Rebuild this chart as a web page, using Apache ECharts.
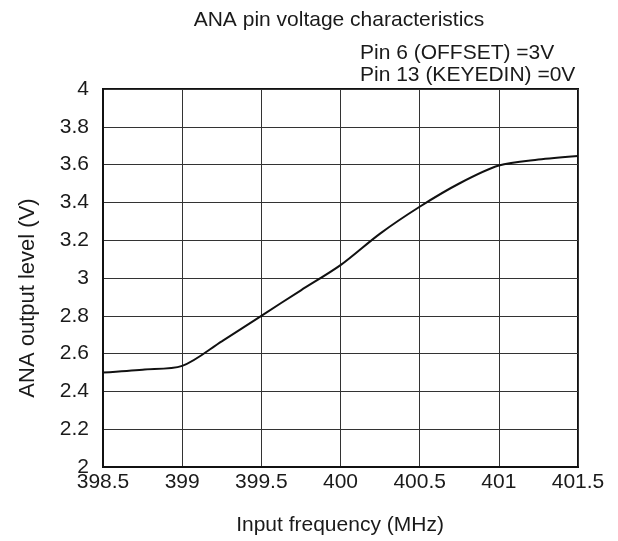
<!DOCTYPE html>
<html>
<head>
<meta charset="utf-8">
<script src="https://cdn.jsdelivr.net/npm/echarts@6/dist/echarts.min.js"></script>
<style>html,body{margin:0;padding:0;background:#fff}#c{width:618px;height:541px}</style>
</head>
<body>
<div id="c"></div>
<script>
const freqMHz = [398.5, 398.75, 399, 399.25, 399.5, 399.75, 400, 400.25, 400.5, 400.75, 401, 401.25, 401.5];
const anaLevelV = [2.50, 2.515, 2.535, 2.665, 2.80, 2.935, 3.068, 3.235, 3.377, 3.50, 3.595, 3.627, 3.646];
const titleText = 'ANA pin voltage characteristics';
const condLines = ['Pin 6 (OFFSET) =3V', 'Pin 13 (KEYEDIN) =0V'];
const xName = 'Input frequency (MHz)';
const yName = 'ANA output level (V)';

const font = '"Liberation Sans", Arial, sans-serif';
const fs = 21;
const txt = (text, x, y, align, rot, size) => ({
  type: 'text', x: x, y: y, rotation: rot || 0,
  style: {text: text, font: (size || fs) + 'px ' + font, fill: '#1a1a1a', align: align, verticalAlign: 'middle', textAlign: align, textVerticalAlign: 'middle'}
});
const chart = echarts.init(document.getElementById('c'));
chart.setOption({
  animation: false,
  backgroundColor: '#fff',
  graphic: [
    txt(titleText, 339, 20, 'center'),
    txt(condLines[0], 360, 53, 'left'),
    txt(condLines[1], 360, 75, 'left'),
    txt(xName, 340, 525, 'center'),
    txt(yName, 28, 298, 'center', Math.PI / 2, 22)
  ],
  grid: {left: 103, right: 40, top: 89, bottom: 74, show: true, borderColor: '#111', borderWidth: 2, backgroundColor: 'transparent'},
  xAxis: {
    type: 'value', min: 398.5, max: 401.5, interval: 0.5,
    axisLine: {show: true, lineStyle: {color: '#111', width: 2}},
    axisTick: {show: false},
    axisLabel: {fontSize: fs, color: '#1a1a1a', fontFamily: font, margin: 5},
    splitLine: {show: true, lineStyle: {color: '#333', width: 1}}
  },
  yAxis: {
    type: 'value', min: 2, max: 4, interval: 0.2,
    axisLine: {show: true, lineStyle: {color: '#111', width: 2}},
    axisTick: {show: false},
    axisLabel: {fontSize: fs, color: '#1a1a1a', fontFamily: font, margin: 14},
    splitLine: {show: true, lineStyle: {color: '#333', width: 1}}
  },
  series: [{
    type: 'line', smooth: 0.3, showSymbol: false,
    data: freqMHz.map((f, i) => [f, anaLevelV[i]]),
    lineStyle: {color: '#111', width: 2}
  }]
});
</script>
</body>
</html>
